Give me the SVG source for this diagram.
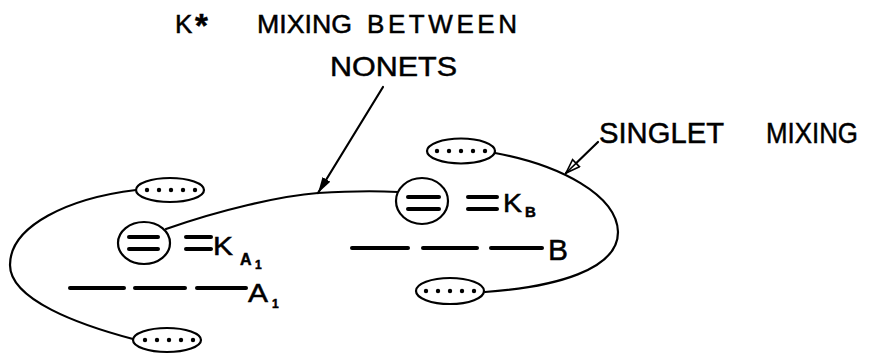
<svg xmlns="http://www.w3.org/2000/svg" width="871" height="354" viewBox="0 0 871 354">
  <style>
    .ln { fill: none; stroke: #000; stroke-width: 2.2; stroke-linecap: round; }
    .ov { fill: #fff; stroke: #000; stroke-width: 2.2; }
    .bar { stroke: #000; stroke-width: 4; stroke-linecap: round; }
    .dot { fill: #000; }
    .t { font-family: "Liberation Sans", Arial, sans-serif; fill: #000; stroke: #000; stroke-width: 0.5; }
  </style>
  <defs>
    <marker id="ahFill" markerUnits="userSpaceOnUse" markerWidth="18" markerHeight="10" refX="16" refY="5" orient="auto">
      <path d="M0,0.5 L16,5 L0,9.5 Z" fill="#000"/>
    </marker>
    <marker id="ahOpen" markerUnits="userSpaceOnUse" markerWidth="18" markerHeight="12" refX="15" refY="6" orient="auto">
      <path d="M1,1 L15,6 L1,11 Z" fill="#fff" stroke="#000" stroke-width="1.6"/>
      <path d="M0,6 L15,6" stroke="#000" stroke-width="1.6"/>
    </marker>
    <g id="dots5">
      <circle class="dot" cx="-24" cy="0" r="2.2"/>
      <circle class="dot" cx="-12" cy="0" r="2.2"/>
      <circle class="dot" cx="0" cy="0" r="2.2"/>
      <circle class="dot" cx="12" cy="0" r="2.2"/>
      <circle class="dot" cx="24" cy="0" r="2.2"/>
    </g>
  </defs>
  <rect width="871" height="354" fill="#fff"/>

  <g id="connectors">
    <path class="ln" d="M136,190 C70,198 10,225 10,265 C10,300 80,325 133,339"/>
    <path class="ln" d="M166,229 C220,210 280,196 318,193 C350,191 380,191 398,192"/>
    <path class="ln" d="M495,153 C560,165 617,195 618,232 C618,270 555,287 485,292"/>
    <path class="ln" d="M383,87 L318,193" marker-end="url(#ahFill)"/>
    <path class="ln" d="M598,142 L566,173" marker-end="url(#ahOpen)"/>
  </g>

  <g id="title">
    <text class="t" x="175" y="33" font-size="26">K</text>
    <text class="t" x="195" y="37" font-size="33" font-weight="bold">*</text>
    <text class="t" x="257" y="33" font-size="26" textLength="95" lengthAdjust="spacingAndGlyphs">MIXING</text>
    <text class="t" x="367" y="33" font-size="26" textLength="150" lengthAdjust="spacing">BETWEEN</text>
    <text class="t" x="330" y="76" font-size="28" textLength="127" lengthAdjust="spacingAndGlyphs">NONETS</text>
  </g>

  <g id="singlet-label">
    <text class="t" x="599" y="143" font-size="30" textLength="125" lengthAdjust="spacingAndGlyphs">SINGLET</text>
    <text class="t" x="766" y="143" font-size="30" textLength="92" lengthAdjust="spacingAndGlyphs">MIXING</text>
  </g>

  <g id="oval-top-left">
    <ellipse class="ov" cx="170" cy="190" rx="34" ry="12"/>
    <use href="#dots5" x="171" y="190"/>
  </g>
  <g id="oval-bottom-left">
    <ellipse class="ov" cx="167" cy="340" rx="34" ry="12"/>
    <use href="#dots5" x="169" y="340"/>
  </g>
  <g id="oval-top-right">
    <ellipse class="ov" cx="461" cy="151" rx="34" ry="12.5"/>
    <use href="#dots5" x="461" y="151"/>
  </g>
  <g id="oval-bottom-right">
    <ellipse class="ov" cx="450" cy="291" rx="34" ry="13"/>
    <use href="#dots5" x="450" y="291"/>
  </g>

  <g id="circle-KA1">
    <ellipse class="ov" cx="144" cy="243" rx="26" ry="21"/>
    <line class="bar" x1="129" y1="237" x2="158" y2="237"/>
    <line class="bar" x1="129" y1="249" x2="158" y2="249"/>
  </g>
  <g id="level-KA1">
    <line class="bar" x1="186" y1="237" x2="211" y2="237"/>
    <line class="bar" x1="186" y1="249" x2="211" y2="249"/>
    <text class="t" x="213" y="255" font-size="25" textLength="20" lengthAdjust="spacingAndGlyphs">K</text>
    <text class="t" x="240" y="265" font-size="16" font-weight="bold">A</text>
    <text class="t" x="255" y="269" font-size="12" font-weight="bold">1</text>
  </g>
  <g id="level-A1">
    <line class="bar" x1="70" y1="288" x2="124" y2="288"/>
    <line class="bar" x1="135" y1="288" x2="185" y2="288"/>
    <line class="bar" x1="197" y1="288" x2="246" y2="288"/>
    <text class="t" x="248" y="302" font-size="26" textLength="20" lengthAdjust="spacingAndGlyphs">A</text>
    <text class="t" x="272" y="308" font-size="12" font-weight="bold">1</text>
  </g>

  <g id="circle-KB">
    <ellipse class="ov" cx="422" cy="201" rx="26" ry="23"/>
    <line class="bar" x1="408" y1="197" x2="439" y2="197"/>
    <line class="bar" x1="408" y1="209" x2="439" y2="209"/>
  </g>
  <g id="level-KB">
    <line class="bar" x1="468" y1="197" x2="497" y2="197"/>
    <line class="bar" x1="468" y1="209" x2="497" y2="209"/>
    <text class="t" x="503" y="212" font-size="25" textLength="19" lengthAdjust="spacingAndGlyphs">K</text>
    <text class="t" x="525" y="217" font-size="15" font-weight="bold">B</text>
  </g>
  <g id="level-B">
    <line class="bar" x1="352" y1="248" x2="408" y2="248"/>
    <line class="bar" x1="423" y1="248" x2="477" y2="248"/>
    <line class="bar" x1="491" y1="248" x2="542" y2="248"/>
    <text class="t" x="548" y="260" font-size="30">B</text>
  </g>
</svg>
